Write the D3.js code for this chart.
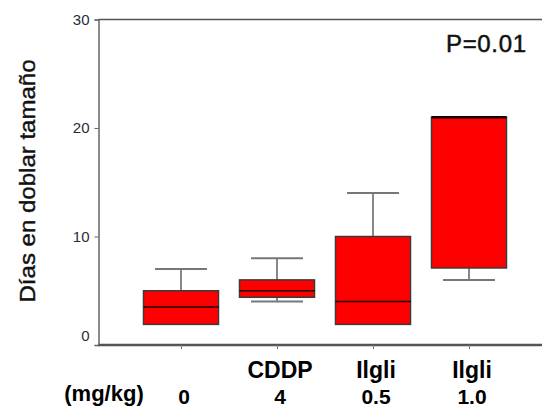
<!DOCTYPE html>
<html>
<head>
<meta charset="utf-8">
<script src="https://cdn.jsdelivr.net/npm/d3@7/dist/d3.min.js"></script>
<style>
	body { margin: 0; background: #fff; }
	svg { display: block; font-family: "Liberation Sans", Arial, sans-serif; }
</style>
</head>
<body>
<svg id="chart" width="542" height="409"></svg>
<script>
const categories = ["0", "CDDP 4", "Ilgli 0.5", "Ilgli 1.0"];
const drugLabels = ["", "CDDP", "Ilgli", "Ilgli"];
const doseLabels = ["0", "4", "0.5", "1.0"];
const q1Values = [1.9, 4.4, 1.9, 7.1];
const medianValues = [3.5, 5.0, 4.0, 21.0];
const q3Values = [5.0, 6.0, 10.0, 21.0];
const lowValues = [1.9, 4.0, 1.9, 6.0];
const highValues = [7.0, 8.0, 14.0, 21.0];
const yTicks = [0, 10, 20, 30];

const plotLeft = 98.5, plotTop = 19.5, plotBottom = 345, plotRight = 542;
const boxWidth = 75, capWidth = 52;

const svg = d3.select("#chart");

const x = d3.scalePoint()
	.domain(categories)
	.range([181, 469]);

const y = d3.scaleLinear()
	.domain([0, 30])
	.range([plotBottom, plotTop]);

function drawFrame() {
	//top line of the frame
	svg.append("line")
		.attr("x1", plotLeft).attr("x2", plotRight)
		.attr("y1", plotTop).attr("y2", plotTop)
		.style("stroke", "#555")
		.style("stroke-width", 1.5);
}

function drawYAxis() {
	const g = svg.append("g")
		.attr("transform", "translate(" + plotLeft + ",0)")
		.call(d3.axisLeft(y).tickValues(yTicks).tickSize(4).tickPadding(5));
	g.select(".domain").style("stroke", "#666").style("stroke-width", 1.5);
	g.selectAll(".tick line").style("stroke", "#666");
	g.selectAll("text")
		.style("font-size", "15px")
		.style("fill", "#2a2a3a")
		.attr("dy", (d) => d === 0 ? "-0.3em" : "0.3em");
	//label for the y axis
	svg.append("text")
		.attr("transform", "translate(35,181) rotate(-90)")
		.attr("text-anchor", "middle")
		.attr("textLength", 243)
		.attr("lengthAdjust", "spacingAndGlyphs")
		.style("font-size", "22px")
		.style("fill", "#111")
		.style("stroke", "#111")
		.style("stroke-width", 0.4)
		.text("Días en doblar tamaño");
}

function drawXAxis() {
	const g = svg.append("g")
		.attr("transform", "translate(0," + plotBottom + ")")
		.call(d3.axisBottom(x).tickSize(4).tickFormat(""));
	g.select(".domain")
		.attr("d", "M" + plotLeft + ",0H" + plotRight)
		.style("stroke", "#555")
		.style("stroke-width", 2.5);
	g.selectAll(".tick line").style("stroke", "#777");

	svg.append("g")
		.selectAll("text")
		.data(categories)
		.enter()
		.append("text")
		.attr("x", (d) => x(d) + 3)
		.attr("y", 378)
		.attr("text-anchor", "middle")
		.style("font-size", "23px")
		.style("font-weight", "bold")
		.text((d, i) => drugLabels[i]);

	svg.append("g")
		.selectAll("text")
		.data(categories)
		.enter()
		.append("text")
		.attr("x", (d) => x(d) + 3)
		.attr("y", 404)
		.attr("text-anchor", "middle")
		.style("font-size", "21px")
		.style("font-weight", "bold")
		.text((d, i) => doseLabels[i]);

	svg.append("text")
		.attr("x", 104)
		.attr("y", 401)
		.attr("text-anchor", "middle")
		.style("font-size", "22px")
		.style("font-weight", "bold")
		.text("(mg/kg)");
}

function drawBoxes() {
	const data = categories.map((c, i) => ({
		cat: c,
		q1: q1Values[i],
		med: medianValues[i],
		q3: q3Values[i],
		lo: lowValues[i],
		hi: highValues[i]
	}));

	//whiskers, only where they reach past the box
	const whiskers = [];
	data.forEach((d) => {
		if (d.hi > d.q3) whiskers.push({ cat: d.cat, from: d.q3, to: d.hi });
		if (d.lo < d.q1) whiskers.push({ cat: d.cat, from: d.q1, to: d.lo });
	});
	const w = svg.append("g")
		.selectAll("g")
		.data(whiskers)
		.enter()
		.append("g");
	w.append("line")
		.attr("x1", (d) => x(d.cat)).attr("x2", (d) => x(d.cat))
		.attr("y1", (d) => y(d.from)).attr("y2", (d) => y(d.to))
		.style("stroke", "#888")
		.style("stroke-width", 2);
	w.append("line")
		.attr("x1", (d) => x(d.cat) - capWidth / 2)
		.attr("x2", (d) => x(d.cat) + capWidth / 2)
		.attr("y1", (d) => y(d.to)).attr("y2", (d) => y(d.to))
		.style("stroke", "#777")
		.style("stroke-width", 2);

	const node = svg.append("g")
		.selectAll("g")
		.data(data)
		.enter()
		.append("g");
	node.append("rect")
		.attr("x", (d) => x(d.cat) - boxWidth / 2)
		.attr("width", boxWidth)
		.attr("y", (d) => y(d.q3))
		.attr("height", (d) => y(d.q1) - y(d.q3))
		.style("fill", "#ff0000")
		.style("stroke", "#3a3a3a")
		.style("stroke-width", 1.5);
	node.append("line")
		.attr("x1", (d) => x(d.cat) - boxWidth / 2)
		.attr("x2", (d) => x(d.cat) + boxWidth / 2)
		.attr("y1", (d) => y(d.med)).attr("y2", (d) => y(d.med))
		.style("stroke", "#1a0000")
		.style("stroke-width", (d) => d.med === d.q3 ? 2.5 : 1.5);
}

function drawNote() {
	svg.append("text")
		.attr("x", 446)
		.attr("y", 52)
		.attr("textLength", 80)
		.style("font-size", "24px")
		.style("fill", "#111")
		.style("stroke", "#111")
		.style("stroke-width", 0.5)
		.text("P=0.01");
}

drawFrame();
drawBoxes();
drawYAxis();
drawXAxis();
drawNote();
</script>
</body>
</html>
